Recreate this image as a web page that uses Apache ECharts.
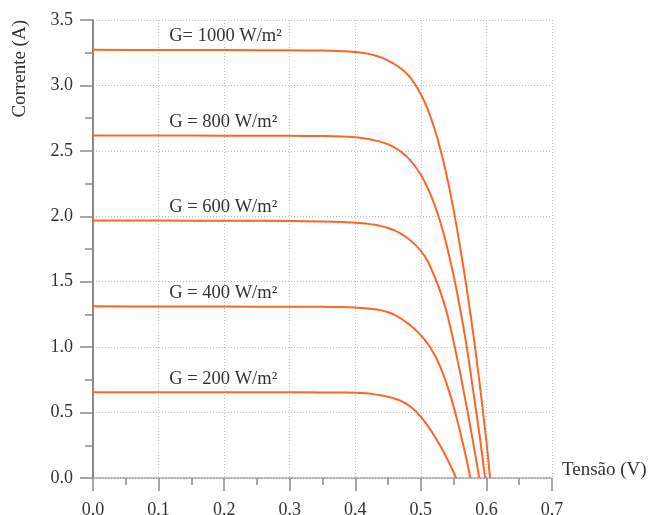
<!DOCTYPE html>
<html>
<head>
<meta charset="utf-8">
<script src="https://cdn.jsdelivr.net/npm/echarts@6/dist/echarts.min.js"></script>
<style>
  html, body { margin: 0; padding: 0; background: #fff; }
  #chart { width: 651px; height: 515px; }
</style>
</head>
<body>
<div id="chart"></div>
<script>
// ---- data ----
const seriesNames = ['G= 1000 W/m²', 'G = 800 W/m²', 'G = 600 W/m²', 'G = 400 W/m²', 'G = 200 W/m²'];

const v1000 = [0, 0.1, 0.2, 0.3, 0.35, 0.38, 0.40, 0.41, 0.42, 0.43, 0.44, 0.45, 0.46, 0.47, 0.48, 0.49, 0.50, 0.51, 0.52, 0.53, 0.54, 0.55, 0.56, 0.57, 0.58, 0.59, 0.60, 0.6055];
const i1000 = [3.272, 3.271, 3.27, 3.268, 3.266, 3.262, 3.256, 3.25, 3.241, 3.229, 3.212, 3.19, 3.162, 3.127, 3.082, 3.017, 2.932, 2.822, 2.682, 2.507, 2.297, 2.047, 1.762, 1.447, 1.097, 0.707, 0.277, 0];

const v800 = [0, 0.1, 0.2, 0.3, 0.35, 0.38, 0.40, 0.41, 0.42, 0.43, 0.44, 0.45, 0.46, 0.47, 0.48, 0.49, 0.50, 0.51, 0.52, 0.53, 0.54, 0.55, 0.56, 0.57, 0.58, 0.59, 0.598];
const i800 = [2.618, 2.617, 2.616, 2.615, 2.613, 2.61, 2.604, 2.598, 2.59, 2.58, 2.567, 2.55, 2.525, 2.492, 2.448, 2.39, 2.315, 2.22, 2.10, 1.95, 1.765, 1.545, 1.29, 1.00, 0.66, 0.31, 0];

const v600 = [0, 0.1, 0.2, 0.3, 0.35, 0.38, 0.40, 0.41, 0.42, 0.43, 0.44, 0.45, 0.46, 0.47, 0.48, 0.49, 0.50, 0.51, 0.52, 0.53, 0.54, 0.55, 0.56, 0.57, 0.58, 0.589];
const i600 = [1.968, 1.967, 1.966, 1.964, 1.961, 1.957, 1.951, 1.947, 1.942, 1.935, 1.925, 1.911, 1.892, 1.866, 1.832, 1.789, 1.735, 1.66, 1.55, 1.42, 1.255, 1.04, 0.80, 0.54, 0.265, 0];

const v400 = [0, 0.1, 0.2, 0.3, 0.35, 0.38, 0.40, 0.41, 0.42, 0.43, 0.44, 0.45, 0.46, 0.47, 0.48, 0.49, 0.50, 0.51, 0.52, 0.53, 0.54, 0.55, 0.56, 0.57, 0.5754];
const i400 = [1.312, 1.311, 1.31, 1.309, 1.308, 1.306, 1.303, 1.3, 1.296, 1.29, 1.281, 1.267, 1.246, 1.217, 1.182, 1.14, 1.09, 1.03, 0.95, 0.845, 0.71, 0.545, 0.35, 0.135, 0];

const v200 = [0, 0.1, 0.2, 0.3, 0.35, 0.38, 0.40, 0.41, 0.42, 0.43, 0.44, 0.45, 0.46, 0.47, 0.48, 0.49, 0.50, 0.51, 0.52, 0.53, 0.54, 0.55, 0.5536];
const i200 = [0.656, 0.656, 0.655, 0.655, 0.654, 0.653, 0.652, 0.649, 0.645, 0.639, 0.631, 0.62, 0.607, 0.588, 0.561, 0.522, 0.467, 0.402, 0.327, 0.242, 0.147, 0.042, 0];

const voltages = [v1000, v800, v600, v400, v200];
const currents = [i1000, i800, i600, i400, i200];

const xTickLabels = ['0.0', '0.1', '0.2', '0.3', '0.4', '0.5', '0.6', '0.7'];
const yTickLabels = ['0.0', '0.5', '1.0', '1.5', '2.0', '2.5', '3.0', '3.5'];

const xAxisTitle = 'Tensão (V)';
const yAxisTitle = 'Corrente (A)';

// ---- chart ----
const FONT = '"Liberation Serif", "Times New Roman", serif';
const TEXT = '#333';
const LINE = '#ff6428';
const AXIS = '#8a8a8a';
const GRID = '#bcc0cc';

const chart = echarts.init(document.getElementById('chart'), null, { renderer: 'canvas' });

const series = seriesNames.map((name, k) => ({
  name: name,
  type: 'line',
  data: voltages[k].map((v, j) => [v, currents[k][j]]),
  smooth: 0.3,
  showSymbol: false,
  symbol: 'none',
  lineStyle: { color: LINE, width: 2 },
  z: 3,
  markPoint: {
    silent: true,
    symbol: 'circle',
    symbolSize: 1,
    itemStyle: { color: 'rgba(0,0,0,0)' },
    data: [{ coord: [0.117, currents[k][0]] }],
    label: {
      show: true,
      formatter: name,
      position: [0, -13],
      align: 'left',
      verticalAlign: 'middle',
      color: TEXT,
      fontFamily: FONT,
      fontSize: 18.5
    }
  }
}));

chart.setOption({
  animation: false,
  backgroundColor: '#fff',
  grid: { left: 93, right: 99, top: 20, bottom: 37, containLabel: false, outerBoundsMode: 'none' },
  xAxis: {
    type: 'value',
    min: 0,
    max: 0.7,
    interval: 0.1,
    name: xAxisTitle,
    nameLocation: 'end',
    nameGap: 10,
    nameTextStyle: { color: TEXT, fontFamily: FONT, fontSize: 19, verticalAlign: 'bottom', align: 'left', lineHeight: 16 },
    axisLine: { show: true, onZero: false, lineStyle: { color: '#999', width: 1.5, type: 'dotted' } },
    axisTick: { show: true, length: 13, lineStyle: { color: AXIS, width: 1.5 } },
    minorTick: { show: true, splitNumber: 2, length: 7, lineStyle: { color: AXIS, width: 1.5 } },
    axisLabel: {
      margin: 23,
      color: TEXT,
      fontFamily: FONT,
      fontSize: 18,
      formatter: (v) => xTickLabels[Math.round(v * 10)]
    },
    splitLine: { show: true, lineStyle: { color: GRID, width: 1, type: [1, 2] } }
  },
  yAxis: {
    type: 'value',
    min: 0,
    max: 3.5,
    interval: 0.5,
    axisLine: { show: true, onZero: false, lineStyle: { color: AXIS, width: 2 } },
    axisTick: { show: true, length: 13, lineStyle: { color: AXIS, width: 1.5 } },
    minorTick: { show: true, splitNumber: 2, length: 8, lineStyle: { color: AXIS, width: 1.5 } },
    axisLabel: {
      margin: 20,
      color: TEXT,
      fontFamily: FONT,
      fontSize: 18,
      formatter: (v) => yTickLabels[Math.round(v * 2)]
    },
    splitLine: { show: true, lineStyle: { color: GRID, width: 1, type: [1, 2] } }
  },
  graphic: [{
    type: 'text',
    left: 11,
    top: 20,
    rotation: Math.PI / 2,
    style: {
      text: yAxisTitle,
      fill: TEXT,
      font: '19px ' + FONT
    }
  }],
  series: series
});
</script>
</body>
</html>
